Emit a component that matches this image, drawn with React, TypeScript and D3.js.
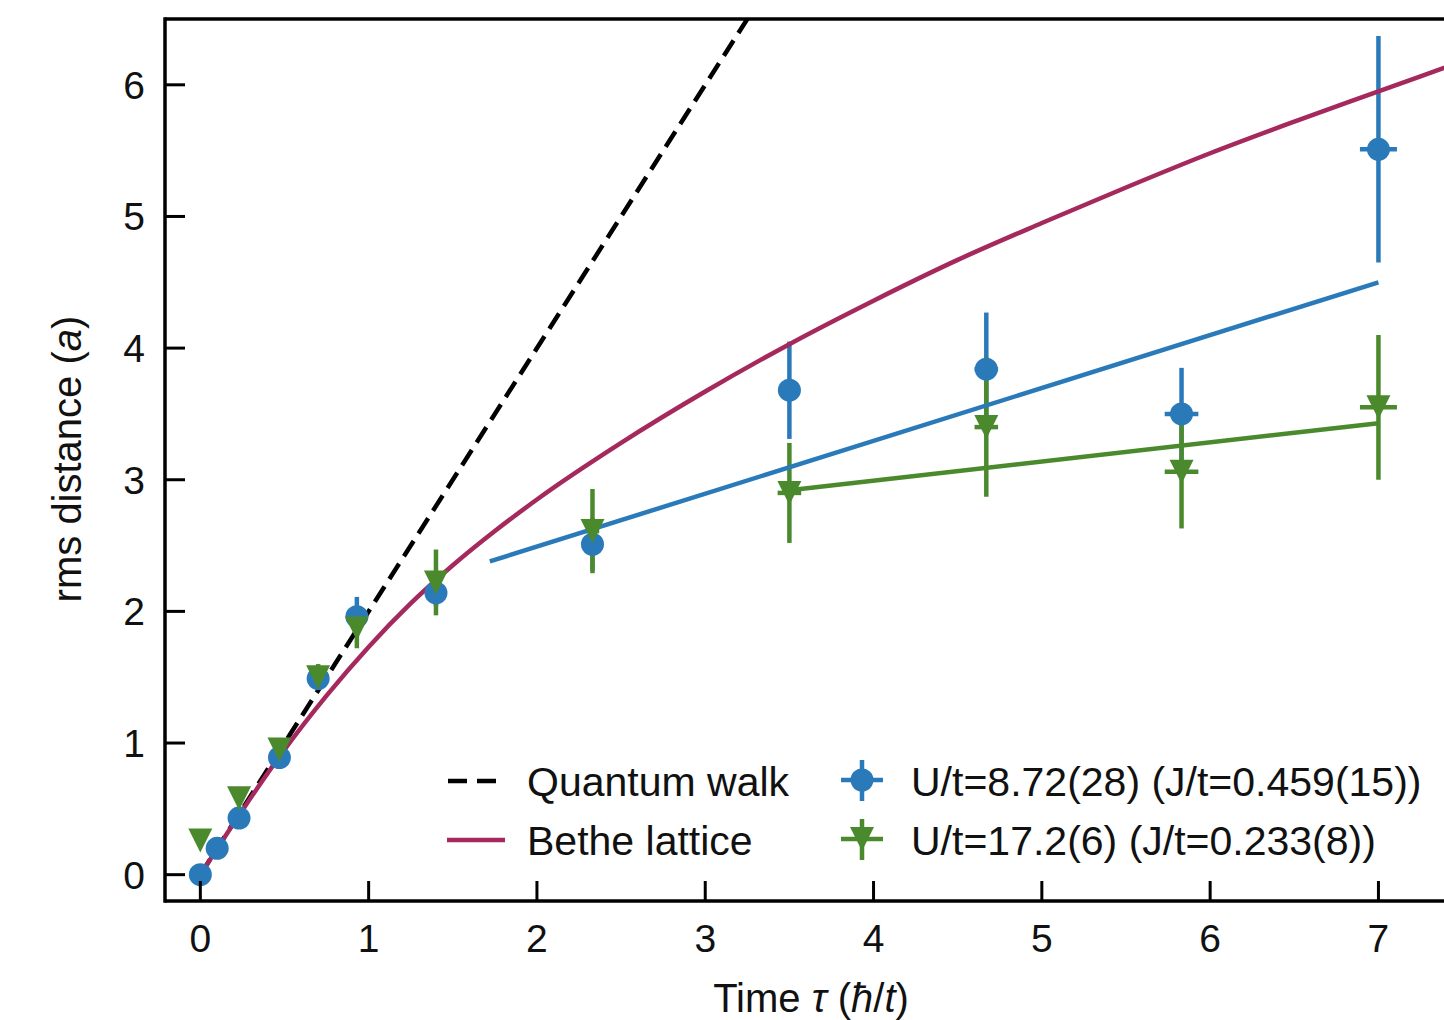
import React from "react";
import * as d3 from "d3";

// ---- data ----
const blueTau = [0, 0.1, 0.23, 0.47, 0.7, 0.93, 1.4, 2.33, 3.5, 4.67, 5.83, 7.0];
const blueR = [0, 0.2, 0.43, 0.89, 1.49, 1.96, 2.14, 2.51, 3.68, 3.84, 3.5, 5.51];
const blueErr = [0.03, 0.04, 0.05, 0.06, 0.08, 0.15, 0.1, 0.2, 0.37, 0.43, 0.35, 0.86];
const blueXErr = [0, 0, 0, 0.01, 0.01, 0.02, 0.02, 0.04, 0.06, 0.07, 0.1, 0.11];

const greenTau = [0, 0.23, 0.47, 0.7, 0.93, 1.4, 2.33, 3.5, 4.67, 5.83, 7.0];
const greenR = [0.26, 0.58, 0.95, 1.5, 1.87, 2.22, 2.61, 2.9, 3.4, 3.06, 3.55];
const greenErr = [0.03, 0.04, 0.06, 0.1, 0.15, 0.25, 0.32, 0.38, 0.53, 0.43, 0.55];
const greenXErr = [0, 0, 0.01, 0.01, 0.02, 0.02, 0.04, 0.07, 0.07, 0.1, 0.11];

const quantumTau = [0, 3.6];
const quantumR = [0, 7.2];

const betheTau = [0, 0.25, 0.5, 0.75, 1.0, 1.25, 1.5, 1.75, 2.0, 2.5, 3.0, 3.5, 4.0, 4.5, 5.0, 5.5, 6.0, 6.5, 7.0, 7.5];
const betheR = [0, 0.49, 0.95, 1.36, 1.73, 2.06, 2.35, 2.61, 2.85, 3.28, 3.67, 4.03, 4.36, 4.67, 4.95, 5.22, 5.48, 5.72, 5.95, 6.18];

const blueFitTau = [1.72, 7.0];
const blueFitR = [2.38, 4.5];
const greenFitTau = [3.5, 7.0];
const greenFitR = [2.92, 3.43];

const xTicks = [0, 1, 2, 3, 4, 5, 6, 7];
const yTicks = [0, 1, 2, 3, 4, 5, 6];

const legendLines = ["Quantum walk", "Bethe lattice"];
const legendSeries = ["U/t=8.72(28) (J/t=0.459(15))", "U/t=17.2(6) (J/t=0.233(8))"];

const BLUE = "#2a7aba";
const GREEN = "#4a8a2d";
const CRIMSON = "#a5295c";
const FONT = "'Liberation Sans', Arial, Helvetica, sans-serif";
const FS_TICK = 39;
const FS_LABEL = 40;
const FS_LEGEND = 41;

export default function App() {
  const W = 1444;
  const H = 1020;
  const x = d3.scaleLinear().domain([-0.21, 7.5]).range([165, 165 + 7.71 * 168.3]);
  const y = d3.scaleLinear().domain([-0.2, 6.5]).range([901, 19]);
  const [x0, x1] = x.range();
  const [yB, yT] = y.range();

  const line = d3
    .line<[number, number]>()
    .x((d) => x(d[0]))
    .y((d) => y(d[1]));
  const smooth = d3
    .line<[number, number]>()
    .x((d) => x(d[0]))
    .y((d) => y(d[1]))
    .curve(d3.curveMonotoneX);

  const zip = (a: number[], b: number[]) => a.map((v, i) => [v, b[i]] as [number, number]);

  const tri = (cx: number, cy: number, s: number) =>
    `M${cx - s},${cy - s}L${cx + s},${cy - s}L${cx},${cy + s}Z`;

  const errBars = (tau: number[], r: number[], err: number[], xerr: number[], color: string, key: string) =>
    tau.map((t, i) => (
      <g key={key + i} stroke={color} strokeWidth={4.5}>
        <line x1={x(t)} x2={x(t)} y1={y(r[i] - err[i])} y2={y(r[i] + err[i])} />
        {xerr[i] > 0 && <line x1={x(t - xerr[i])} x2={x(t + xerr[i])} y1={y(r[i])} y2={y(r[i])} />}
      </g>
    ));

  const tickLen = 20;

  return (
    <svg
      width={W}
      height={H}
      style={{ position: "absolute", left: 0, top: 0, background: "#fff" }}
      fontFamily={FONT}
    >
      <defs>
        <clipPath id="plotclip">
          <rect x={x0} y={yT} width={x1 - x0} height={yB - yT} />
        </clipPath>
      </defs>
      <rect x={0} y={0} width={W} height={H} fill="#fff" />

      <g clipPath="url(#plotclip)">
        {errBars(blueTau, blueR, blueErr, blueXErr, BLUE, "be")}
        {errBars(greenTau, greenR, greenErr, greenXErr, GREEN, "ge")}

        <path
          d={line(zip(quantumTau, quantumR)) || ""}
          fill="none"
          stroke="#000"
          strokeWidth={4.5}
          strokeDasharray="18 9"
        />
        <path d={smooth(zip(betheTau, betheR)) || ""} fill="none" stroke={CRIMSON} strokeWidth={4.5} />
        <path d={line(zip(blueFitTau, blueFitR)) || ""} fill="none" stroke={BLUE} strokeWidth={4.5} />
        <path d={line(zip(greenFitTau, greenFitR)) || ""} fill="none" stroke={GREEN} strokeWidth={4.5} />

        {blueTau.map((t, i) => (
          <circle key={"bc" + i} cx={x(t)} cy={y(blueR[i])} r={11.5} fill={BLUE} />
        ))}
        {greenTau.map((t, i) => (
          <path key={"gt" + i} d={tri(x(t), y(greenR[i]), 12)} fill={GREEN} />
        ))}
      </g>

      {/* spines */}
      <g stroke="#000" strokeWidth={3.5} fill="none">
        <line x1={x0} x2={x0} y1={yT - 1.75} y2={yB + 1.75} />
        <line x1={x0} x2={x1} y1={yB} y2={yB} />
        <line x1={x0} x2={x1} y1={yT} y2={yT} />
        <line x1={x1} x2={x1} y1={yT} y2={yB} />
      </g>

      {/* x ticks */}
      {xTicks.map((t) => (
        <g key={"xt" + t}>
          <line x1={x(t)} x2={x(t)} y1={yB} y2={yB - tickLen} stroke="#000" strokeWidth={3} />
          <text x={x(t)} y={yB + 51} textAnchor="middle" fontSize={FS_TICK} fill="#111">
            {t}
          </text>
        </g>
      ))}
      {/* y ticks */}
      {yTicks.map((t) => (
        <g key={"yt" + t}>
          <line x1={x0} x2={x0 + tickLen} y1={y(t)} y2={y(t)} stroke="#000" strokeWidth={3} />
          <text x={x0 - 20} y={y(t) + 14} textAnchor="end" fontSize={FS_TICK} fill="#111">
            {t}
          </text>
        </g>
      ))}

      {/* axis labels */}
      <text x={811} y={1012} textAnchor="middle" fontSize={FS_LABEL} fill="#111">
        Time <tspan fontStyle="italic">τ</tspan> (<tspan fontStyle="italic">ħ</tspan>/<tspan fontStyle="italic">t</tspan>)
      </text>
      <text transform={`translate(81, 459) rotate(-90)`} textAnchor="middle" fontSize={FS_LABEL} fill="#111">
        rms distance (<tspan fontStyle="italic">a</tspan>)
      </text>

      {/* legend */}
      <g>
        <line x1={448} x2={505} y1={781} y2={781} stroke="#000" strokeWidth={4.5} strokeDasharray="19 10" />
        <line x1={447} x2={505} y1={840} y2={840} stroke={CRIMSON} strokeWidth={4.5} />
        {legendLines.map((s, i) => (
          <text key={"ll" + i} x={527} y={796 + i * 59} fontSize={FS_LEGEND} fill="#111">
            {s}
          </text>
        ))}
        <g stroke={BLUE} strokeWidth={4.5}>
          <line x1={862} x2={862} y1={760} y2={801} />
          <line x1={841} x2={883} y1={780} y2={780} />
        </g>
        <circle cx={862} cy={780} r={11.5} fill={BLUE} />
        <g stroke={GREEN} strokeWidth={4.5}>
          <line x1={862} x2={862} y1={819} y2={860} />
          <line x1={841} x2={883} y1={839} y2={839} />
        </g>
        <path d={tri(862, 839, 12)} fill={GREEN} />
        {legendSeries.map((s, i) => (
          <text key={"ls" + i} x={911} y={796 + i * 59} fontSize={FS_LEGEND} fill="#111">
            {s}
          </text>
        ))}
      </g>
    </svg>
  );
}
